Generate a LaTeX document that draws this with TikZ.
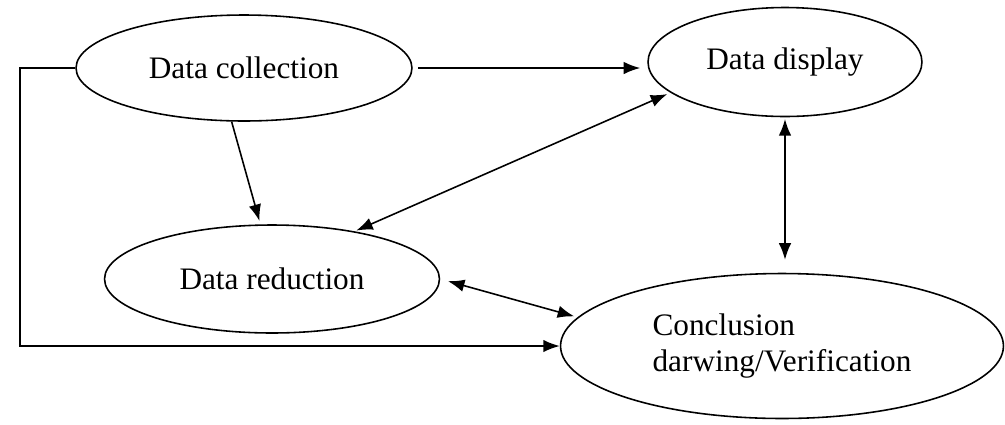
\documentclass[tikz,border=0pt]{standalone}
\usepackage{fontspec}
\setmainfont{Liberation Serif}
\usepackage{tikz}
\usetikzlibrary{shapes.geometric,arrows.meta}

\tikzset{
	stage/.style={draw,ellipse,line width=0.9pt,inner sep=0pt,font=\fontsize{17.8}{20}\selectfont},
	flow/.style={line width=0.9pt,-{Latex[length=3.3mm,width=2.5mm]}},
	both/.style={line width=0.9pt,{Latex[length=3.3mm,width=2.5mm]}-{Latex[length=3.3mm,width=2.5mm]}}
}

\begin{document}
\begin{tikzpicture}[x=0.02cm,y=-0.02cm]
	\useasboundingbox (0,0) rectangle (1005,424);
	% the four stages
	\node (coll) [stage,minimum width=6.72cm,minimum height=2.12cm] at (244,68) {Data collection};
	\node (disp) [stage,minimum width=5.48cm,minimum height=2.18cm] at (785,62) {Data display};
	\node (red) [stage,minimum width=6.7cm,minimum height=2.16cm] at (272,279) {Data reduction};
	\node (concl) [stage,minimum width=8.86cm,minimum height=2.9cm,align=left] at (782,346) {Conclusion\\darwing/Verification};
	\coordinate (fb) at (20,0);

	\path[flow]
	(coll.east) edge [shorten <=3pt,shorten >=4pt] (coll.east -| disp.west)
	(coll.257) edge [shorten >=2pt] (red.102);
	\path[both]
	(disp.195) edge [shorten <=2pt,shorten >=1pt] (red.30)
	(disp.south) edge [shorten <=1pt,shorten >=0.26cm] (disp.south |- concl.north)
	(red.east) edge [shorten <=0.16cm,shorten >=2pt] (concl.172);
	% feedback line on the left
	\draw[flow] (coll.west) -- (coll.west -| fb) |- (concl.west);
\end{tikzpicture}
\end{document}
